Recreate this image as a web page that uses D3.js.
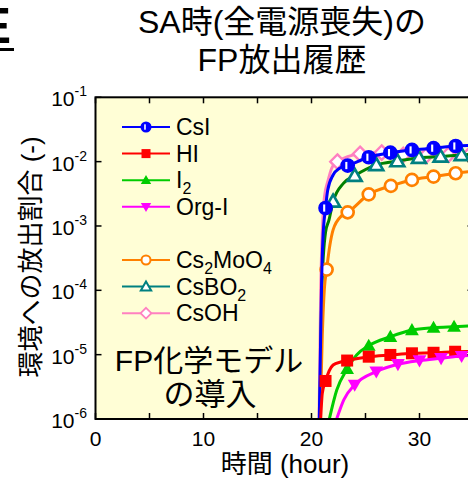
<!DOCTYPE html>
<html>
<head>
<meta charset="utf-8">
<script src="https://d3js.org/d3.v7.min.js"></script>
<style>
    body { margin: 0; background: white; }
    text { font-family: "Liberation Sans", Arial, "Noto Sans CJK JP", sans-serif; fill: black; }
</style>
</head>
<body>
<svg id="chart" width="468" height="483"></svg>
<script>

// Data: [hour, fraction, marker?]
const csiLine   = [[20.72,1e-6,0],[20.82,1e-5,0],[20.92,1e-4,0],[21.05,6e-4,0],[21.3,1.9e-3,1],[21.5,3.6e-3,0],[22.0,6.2e-3,0],[22.6,7.9e-3,0],
                   [23.35,8.7e-3,1],[25.3,1.17e-2,1],[27.3,1.38e-2,1],[29.3,1.52e-2,1],[31.3,1.62e-2,1],[33.35,1.75e-2,1],[35,1.8e-2,0]];
const hiLine    = [[20.85,1e-6,0],[21.0,2.5e-6,0],[21.3,3.9e-6,1],[22.0,6.9e-6,0],[22.7,7.7e-6,0],[23.3,8.1e-6,1],[25.3,9.3e-6,1],
                   [27.3,9.9e-6,1],[29.3,1.05e-5,1],[31.3,1.07e-5,1],[33.3,1.11e-5,1],[35,1.13e-5,0]];
const i2Line    = [[21.65,1e-6,0],[22.33,2.8e-6,0],[23.3,6.0e-6,1],[24.2,1.0e-5,0],[25.3,1.38e-5,1],[27.3,1.9e-5,1],[29.3,2.42e-5,1],
                   [31.3,2.63e-5,1],[33.2,2.72e-5,1],[35,2.8e-5,0]];
const orgiLine  = [[22.33,1e-6,0],[23.0,2e-6,0],[24.0,3.4e-6,1],[26.0,5.45e-6,1],[28.0,7.1e-6,1],[30.0,8.1e-6,1],[32.0,8.8e-6,1],
                   [33.9,9.5e-6,1],[35,9.8e-6,0]];
const csmoLine  = [[20.8,1e-6,0],[21.0,2e-5,0],[21.2,1.1e-4,0],[21.4,2.1e-4,1],[21.7,5e-4,0],[22.0,8.7e-4,0],[22.8,1.45e-3,0],[23.35,1.63e-3,1],
                   [25.3,3.1e-3,1],[27.35,4.2e-3,1],[29.3,5.2e-3,1],[31.3,5.85e-3,1],[33.35,6.6e-3,1],[35,7.1e-3,0]];
const csbo2Line = [[20.78,1e-6,0],[20.95,1e-4,0],[21.3,8e-4,0],[21.62,1.24e-3,0],[22.0,2.4e-3,1],[22.95,4.6e-3,0],[24.0,6.05e-3,1],
                   [26.0,8.9e-3,1],[27.95,1.02e-2,1],[29.95,1.15e-2,1],[31.95,1.2e-2,1],[33.9,1.27e-2,1],[35,1.3e-2,0]];
const csohLine  = [[20.7,1e-6,0],[20.85,1e-4,0],[21.2,2.85e-3,0],[21.55,5.2e-3,0],[21.87,7.9e-3,0],[22.4,1.0e-2,1],[24.5,1.32e-2,1],
                   [26.5,1.38e-2,1],[28.5,1.27e-2,1],[30.57,1.22e-2,1],[32.67,1.27e-2,1],[34.7,1.32e-2,1],[35,1.33e-2,0]];

const xTicks = [0, 10, 20, 30];
const xMinor = [5, 15, 25, 35];
const yExps = [-1, -2, -3, -4, -5, -6];

// svg setup
const svg = d3.select("#chart");
const pLeft = 95.5, pRight = 473.5, pTop = 97.3, pBottom = 419;

const x = d3.scaleLinear().domain([0, 35]).range([pLeft, pRight]);
const y = d3.scaleLog().domain([1e-6, 1e-1]).range([pBottom, pTop]);

svg.append("defs").append("clipPath").attr("id", "plotclip")
   .append("rect").attr("x", pLeft).attr("y", pTop).attr("width", pRight - pLeft).attr("height", pBottom - pTop);

svg.append("rect").attr("x", pLeft).attr("y", pTop).attr("width", pRight - pLeft).attr("height", pBottom - pTop)
   .attr("fill", "#fffed6");

// title
svg.append("text").attr("x", 282).attr("y", 33).attr("text-anchor", "middle")
   .style("font-size", "32px").text("SA時(全電源喪失)の");
svg.append("text").attr("x", 282).attr("y", 71).attr("text-anchor", "middle")
   .style("font-size", "32px").text("FP放出履歴");

// panel letter, mostly cut off
svg.append("text").attr("x", 11).attr("y", 43).attr("text-anchor", "end")
   .style("font-size", "50px").style("font-weight", "bold").text("E");
svg.append("line").attr("x1", 0).attr("x2", 14).attr("y1", 49.5).attr("y2", 49.5)
   .attr("stroke", "black").attr("stroke-width", 3);

// annotation
svg.append("text").attr("x", 209).attr("y", 371).attr("text-anchor", "middle")
   .style("font-size", "30px").text("FP化学モデル");
svg.append("text").attr("x", 210).attr("y", 405).attr("text-anchor", "middle")
   .style("font-size", "31px").text("の導入");

// series
const series = [
    {data: csohLine,  color: "#ff80c0", line: "#ff80c0", shape: "diamond"},
    {data: csbo2Line, color: "#008080", line: "#008000", shape: "triup-open"},
    {data: csmoLine,  color: "#ff8000", line: "#ff8000", shape: "circle-open"},
    {data: csiLine,   color: "#0000ff", line: "#0000ff", shape: "half"},
    {data: i2Line,    color: "#00cc00", line: "#00cc00", shape: "triup"},
    {data: hiLine,    color: "#ff0000", line: "#ff0000", shape: "square"},
    {data: orgiLine,  color: "#ff00ff", line: "#ff00ff", shape: "tridown"}
];

const lineGen = d3.line().x(d => x(d[0])).y(d => y(d[1])).curve(d3.curveMonotoneX);
const plot = svg.append("g").attr("clip-path", "url(#plotclip)");

function drawMarker(g, shape, color, cx, cy, s) {
    if (shape === "circle-open") {
        g.append("circle").attr("cx", cx).attr("cy", cy).attr("r", s)
         .attr("fill", "white").attr("stroke", color).attr("stroke-width", s * 0.45);
    } else if (shape === "half") {
        g.append("circle").attr("cx", cx).attr("cy", cy).attr("r", s)
         .attr("fill", color).attr("stroke", color).attr("stroke-width", s * 0.45);
        g.append("rect").attr("x", cx - s * 0.4).attr("y", cy - s * 0.6)
         .attr("width", s * 0.35).attr("height", s * 1.2).attr("fill", "white");
    } else if (shape === "square") {
        g.append("rect").attr("x", cx - s).attr("y", cy - s).attr("width", 2 * s).attr("height", 2 * s)
         .attr("fill", color);
    } else if (shape === "triup" || shape === "triup-open") {
        const h = s * 1.15;
        const pts = [[cx, cy - h], [cx - h, cy + h * 0.75], [cx + h, cy + h * 0.75]];
        g.append("polygon").attr("points", pts.map(p => p.join(",")).join(" "))
         .attr("fill", shape === "triup" ? color : "white")
         .attr("stroke", color).attr("stroke-width", shape === "triup" ? 0 : s * 0.45)
         .attr("stroke-linejoin", "miter");
    } else if (shape === "tridown") {
        const h = s * 1.15;
        const pts = [[cx, cy + h], [cx - h, cy - h * 0.75], [cx + h, cy - h * 0.75]];
        g.append("polygon").attr("points", pts.map(p => p.join(",")).join(" ")).attr("fill", color);
    } else if (shape === "diamond") {
        const h = s * 1.2;
        const pts = [[cx, cy - h], [cx + h, cy], [cx, cy + h], [cx - h, cy]];
        g.append("polygon").attr("points", pts.map(p => p.join(",")).join(" "))
         .attr("fill", "white").attr("stroke", color).attr("stroke-width", s * 0.4);
    }
}

series.forEach(sr => {
    plot.append("path").datum(sr.data)
        .attr("d", lineGen).attr("fill", "none")
        .attr("stroke", sr.line).attr("stroke-width", 3);
    sr.data.filter(d => d[2] === 1).forEach(d => {
        drawMarker(plot, sr.shape, sr.color, x(d[0]), y(d[1]), 6);
    });
});

// axes frame and ticks (inward)
svg.append("rect").attr("x", pLeft).attr("y", pTop).attr("width", pRight - pLeft).attr("height", pBottom - pTop)
   .attr("fill", "none").attr("stroke", "black").attr("stroke-width", 2);

const tl = 6;
xTicks.concat(xMinor).forEach(t => {
    svg.append("line").attr("x1", x(t)).attr("x2", x(t)).attr("y1", pBottom).attr("y2", pBottom - tl)
       .attr("stroke", "black").attr("stroke-width", 1.5);
    svg.append("line").attr("x1", x(t)).attr("x2", x(t)).attr("y1", pTop).attr("y2", pTop + tl)
       .attr("stroke", "black").attr("stroke-width", 1.5);
});
xTicks.forEach(t => {
    svg.append("text").attr("x", x(t)).attr("y", 446).attr("text-anchor", "middle")
       .style("font-size", "21px").text(t);
});

yExps.forEach(e => {
    const yy = y(Math.pow(10, e));
    svg.append("line").attr("x1", pLeft).attr("x2", pLeft + tl).attr("y1", yy).attr("y2", yy)
       .attr("stroke", "black").attr("stroke-width", 1.5);
    svg.append("line").attr("x1", pRight).attr("x2", pRight - tl).attr("y1", yy).attr("y2", yy)
       .attr("stroke", "black").attr("stroke-width", 1.5);
    const t = svg.append("text").attr("x", 87).attr("y", yy + 9).attr("text-anchor", "end")
       .style("font-size", "21px");
    t.append("tspan").text("10");
    t.append("tspan").attr("dy", -10).style("font-size", "14px").text(e);
});

// axis titles
svg.append("text").attr("x", 285).attr("y", 473).attr("text-anchor", "middle")
   .style("font-size", "26px").text("時間 (hour)");
svg.append("text").attr("transform", "translate(40,257) rotate(-90)").attr("text-anchor", "middle")
   .style("font-size", "26px").text("環境への放出割合 (-)");

// legend
const legendItems = [
    {row: 0, color: "#0000ff", shape: "half", label: [["CsI"]]},
    {row: 1, color: "#ff0000", shape: "square", label: [["HI"]]},
    {row: 2, color: "#00cc00", shape: "triup", label: [["I"], ["2", "sub"]]},
    {row: 3, color: "#ff00ff", shape: "tridown", label: [["Org-I"]]},
    {row: 5, color: "#ff8000", shape: "circle-open", label: [["Cs"], ["2", "sub"], ["MoO"], ["4", "sub"]]},
    {row: 6, color: "#008080", shape: "triup-open", label: [["CsBO"], ["2", "sub"]]},
    {row: 7, color: "#ff80c0", shape: "diamond", label: [["CsOH"]]}
];
const leg = svg.append("g");
legendItems.forEach(it => {
    const yy = 127 + it.row * 26.6;
    leg.append("line").attr("x1", 122).attr("x2", 170).attr("y1", yy).attr("y2", yy)
       .attr("stroke", it.color).attr("stroke-width", 2);
    drawMarker(leg, it.shape, it.color, 146, yy, 4.5);
    const t = leg.append("text").attr("x", 176).attr("y", yy + 8).style("font-size", "23px");
    let shift = 0;
    it.label.forEach(p => {
        const want = p[1] === "sub" ? 6 : 0;
        t.append("tspan").attr("dy", want - shift)
         .style("font-size", p[1] === "sub" ? "16px" : null).text(p[0]);
        shift = want;
    });
});

</script>
</body>
</html>
